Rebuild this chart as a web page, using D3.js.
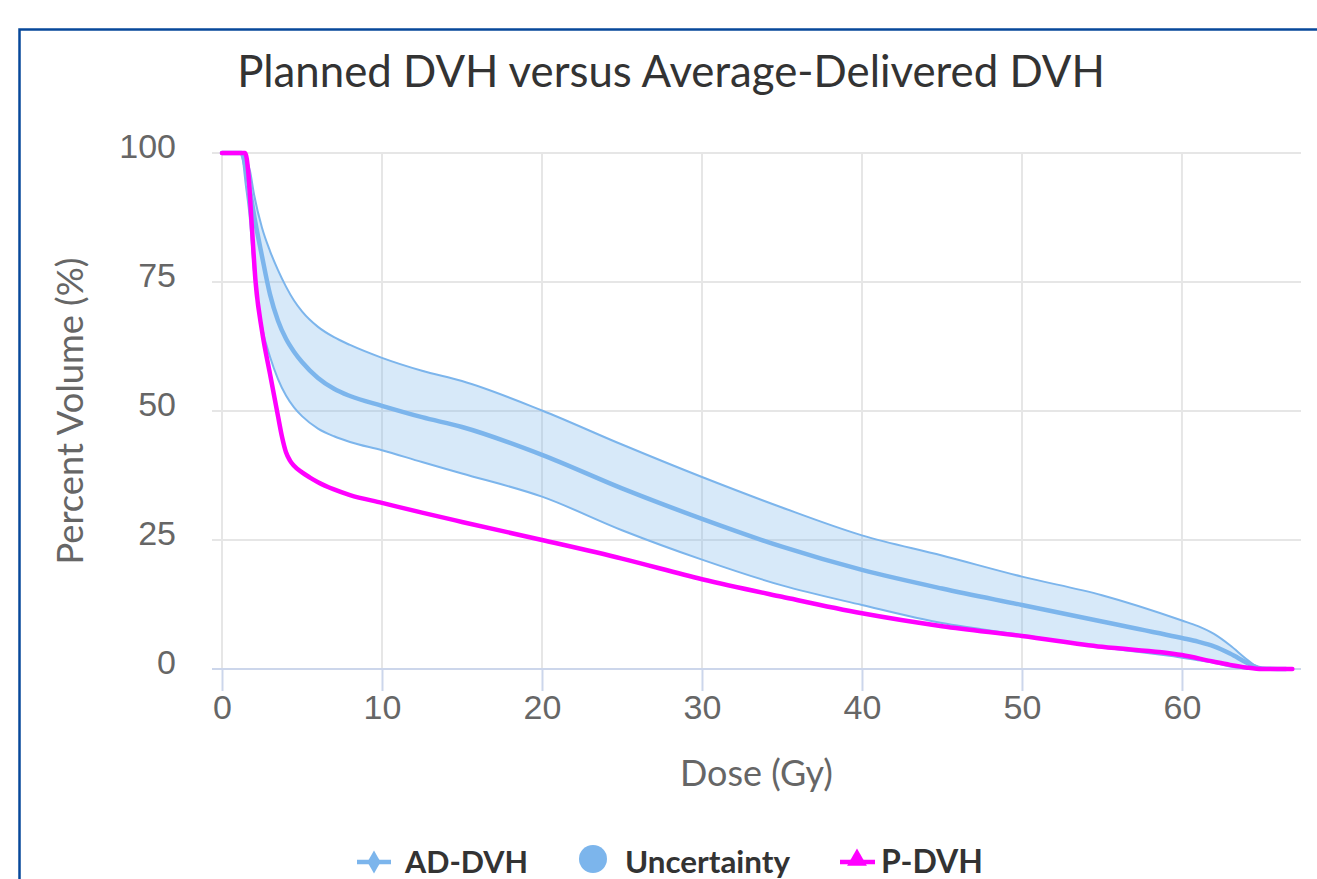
<!DOCTYPE html>
<html>
<head>
<meta charset="utf-8">
<script src="https://cdn.jsdelivr.net/npm/d3@7"></script>
<style>
  body { margin: 0; background: #fff; }
  svg { display: block; font-family: Lato, "Open Sans", sans-serif; }
</style>
</head>
<body>
<div id="chart"></div>
<script>
// AD-DVH (average delivered) with uncertainty band
const adDose = [0, 1.2, 1.5, 1.75, 2, 2.5, 3, 3.5, 4, 4.5, 5, 6, 7, 8, 10, 12.5, 15, 20, 25, 30, 35, 40, 45, 50, 55, 60, 61, 62, 63, 64, 64.5, 65, 66.5];
const adMean = [100, 100, 97, 92.7, 88, 80, 72.6, 67.5, 64, 61.5, 59.5, 56.4, 54.3, 52.9, 51, 48.8, 46.9, 41.5, 35, 29.1, 23.7, 19.2, 15.6, 12.4, 9.2, 6, 5.3, 4.4, 3, 1.3, 0.5, 0.1, 0];
const adLow = [100, 100, 93.5, 87, 77, 66.3, 60.5, 56.2, 53, 50.7, 49, 46.6, 45.1, 44, 42.4, 40.1, 37.9, 33.4, 26.9, 21.2, 16.2, 12.4, 8.9, 6.6, 4.2, 2.2, 1.7, 1.2, 0.5, 0.1, 0, 0, 0];
const adHigh = [100, 100, 99, 96.5, 92, 85.5, 81, 77.3, 74.1, 71.4, 69.3, 66.3, 64.3, 62.8, 60.3, 57.8, 55.8, 50.1, 43.5, 37.2, 31.3, 25.9, 22, 17.9, 14.3, 9.4, 8.3, 6.8, 4.6, 2, 0.8, 0.2, 0];
// planned DVH
const pDose = [0, 1.45, 1.65, 1.85, 2.1, 2.5, 3, 3.5, 3.75, 4, 4.25, 4.5, 5, 5.5, 6, 7, 8, 10, 12.5, 15, 20, 25, 30, 35, 40, 45, 50, 55, 60, 62, 63, 64, 65, 66.9];
const pVol = [100, 100, 96, 86.5, 75, 65.5, 57.2, 49, 45, 42, 40.4, 39.4, 38.1, 37.1, 36.2, 34.8, 33.7, 32.2, 30.3, 28.5, 25, 21.4, 17.4, 14, 10.8, 8.3, 6.4, 4.3, 2.7, 1.4, 0.8, 0.3, 0, 0];

const xTicks = [0, 10, 20, 30, 40, 50, 60];
const yTicks = [0, 25, 50, 75, 100];
const titleText = 'Planned DVH versus Average-Delivered DVH';
const legendNames = ['AD-DVH', 'Uncertainty', 'P-DVH'];

const W = 1317, H = 879;
const plot = { left: 212, right: 1301, top: 153, bottom: 669 };
const blue = '#7cb5ec', magenta = '#ff00ff';

const svg = d3.select('#chart').append('svg').attr('width', W).attr('height', H);

// container border (runs off the page on right / bottom)
svg.append('rect')
  .attr('x', 19.5).attr('y', 29.5)
  .attr('width', 1400).attr('height', 1000)
  .attr('fill', '#fff')
  .attr('stroke', '#07489a')
  .attr('stroke-width', 2.5);

// fit a text node to a measured width
const fit = (sel, target) => {
  const node = sel.node();
  const fs = parseFloat(sel.attr('font-size'));
  const w = node.getComputedTextLength();
  if (w > 0) sel.attr('font-size', (fs * target / w).toFixed(2));
};

const title = svg.append('text')
  .attr('x', 671).attr('y', 87)
  .attr('text-anchor', 'middle')
  .attr('fill', '#333')
  .attr('font-size', 40)
  .text(titleText);
fit(title, 868);

// Scales
const x = d3.scaleLinear().domain([-0.625, 67.44]).range([plot.left, plot.right]);
const y = d3.scaleLinear().domain([0, 100]).range([plot.bottom, plot.top]);

// Grid
const grid = svg.append('g').attr('class', 'grid');
grid.selectAll('line.h')
  .data(yTicks)
  .enter()
  .append('line')
  .attr('class', 'h')
  .attr('x1', plot.left).attr('x2', plot.right)
  .attr('y1', d => y(d)).attr('y2', d => y(d))
  .attr('stroke', '#e6e6e6').attr('stroke-width', 2);
grid.selectAll('line.v')
  .data(xTicks)
  .enter()
  .append('line')
  .attr('class', 'v')
  .attr('x1', d => x(d)).attr('x2', d => x(d))
  .attr('y1', plot.top).attr('y2', plot.bottom)
  .attr('stroke', '#e6e6e6').attr('stroke-width', 2);

// Axes
const xAxis = d3.axisBottom(x).tickValues(xTicks).tickSize(22).tickPadding(6).tickFormat(d3.format('d'));
const aX = svg.append('g')
  .attr('transform', 'translate(0,' + plot.bottom + ')')
  .call(xAxis);
aX.select('.domain').remove();
aX.selectAll('.tick line').attr('stroke', '#ccd6eb').attr('stroke-width', 2);
aX.selectAll('text')
  .attr('fill', '#666')
  .attr('font-size', 34)
  .attr('dy', null)
  .attr('y', 50);
svg.append('line')
  .attr('x1', plot.left).attr('x2', plot.right)
  .attr('y1', plot.bottom).attr('y2', plot.bottom)
  .attr('stroke', '#ccd6eb').attr('stroke-width', 2);

const yAxis = d3.axisLeft(y).tickValues(yTicks).tickSize(0).tickPadding(36);
const aY = svg.append('g')
  .attr('transform', 'translate(' + plot.left + ',0)')
  .call(yAxis);
aY.select('.domain').remove();
aY.selectAll('text')
  .attr('fill', '#666')
  .attr('font-size', 34)
  .attr('dy', 4.5);

const xTitle = svg.append('text')
  .attr('x', (plot.left + plot.right) / 2).attr('y', 786)
  .attr('text-anchor', 'middle')
  .attr('fill', '#666')
  .attr('font-size', 34)
  .text('Dose (Gy)');
fit(xTitle, 153);

const yTitle = svg.append('text')
  .attr('transform', 'translate(83,' + (plot.top + plot.bottom) / 2 + ') rotate(-90)')
  .attr('text-anchor', 'middle')
  .attr('fill', '#666')
  .attr('font-size', 34)
  .text('Percent Volume (%)');
fit(yTitle, 307);

// Series
const band = adDose.map((d, i) => ({ d: d, lo: adLow[i], hi: adHigh[i] }));
const mean = adDose.map((d, i) => ({ d: d, v: adMean[i] }));
const planned = pDose.map((d, i) => ({ d: d, v: pVol[i] }));

const area = d3.area()
  .x(p => x(p.d)).y0(p => y(p.lo)).y1(p => y(p.hi))
  .curve(d3.curveMonotoneX);
const lineLo = d3.line().x(p => x(p.d)).y(p => y(p.lo)).curve(d3.curveMonotoneX);
const lineHi = d3.line().x(p => x(p.d)).y(p => y(p.hi)).curve(d3.curveMonotoneX);
const lineV = d3.line().x(p => x(p.d)).y(p => y(p.v)).curve(d3.curveMonotoneX);

const series = svg.append('g').attr('class', 'series');
series.append('path').datum(band).attr('d', area)
  .attr('fill', blue).attr('fill-opacity', 0.3).attr('stroke', 'none');
series.append('path').datum(band).attr('d', lineLo)
  .attr('fill', 'none').attr('stroke', blue).attr('stroke-width', 2);
series.append('path').datum(band).attr('d', lineHi)
  .attr('fill', 'none').attr('stroke', blue).attr('stroke-width', 2);
series.append('path').datum(mean).attr('d', lineV)
  .attr('fill', 'none').attr('stroke', blue).attr('stroke-width', 4.5)
  .attr('stroke-linejoin', 'round').attr('stroke-linecap', 'round');
series.append('path').datum(planned).attr('d', lineV)
  .attr('fill', 'none').attr('stroke', magenta).attr('stroke-width', 4.5)
  .attr('stroke-linejoin', 'round').attr('stroke-linecap', 'round');

// Legend
const legend = svg.append('g').attr('class', 'legend');
const legY = 862;
// AD-DVH
legend.append('line').attr('x1', 357).attr('x2', 391).attr('y1', legY).attr('y2', legY)
  .attr('stroke', blue).attr('stroke-width', 4.5);
legend.append('path').attr('transform', 'translate(374,' + legY + ')')
  .attr('d', d3.symbol(d3.symbolDiamond, 150)()).attr('fill', blue);
// Uncertainty
legend.append('circle').attr('cx', 593).attr('cy', 859).attr('r', 14).attr('fill', blue);
// P-DVH
legend.append('line').attr('x1', 840).attr('x2', 875).attr('y1', legY).attr('y2', legY)
  .attr('stroke', magenta).attr('stroke-width', 4.5);
legend.append('path').attr('transform', 'translate(857,' + (legY - 2) + ')')
  .attr('d', d3.symbol(d3.symbolTriangle, 170)()).attr('fill', magenta);

const legX = [405, 625, 881];
const legW = [123, 165, 102];
legendNames.forEach((n, i) => {
  const t = legend.append('text')
    .attr('x', legX[i]).attr('y', 873)
    .attr('fill', '#333')
    .attr('font-weight', 'bold')
    .attr('font-size', 30)
    .text(n);
  fit(t, legW[i]);
});
</script>
</body>
</html>
